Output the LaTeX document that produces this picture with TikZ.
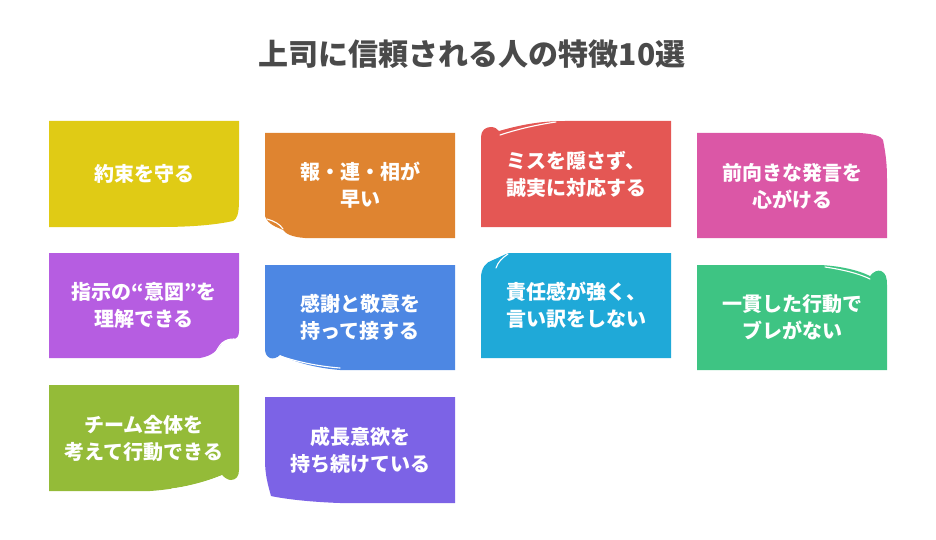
\documentclass[tikz,border=0pt]{standalone}
\usepackage{fontspec}
\setmainfont{Noto Sans CJK JP}
\definecolor{cYellow}{HTML}{E0CB15}
\definecolor{cOrange}{HTML}{DF8430}
\definecolor{cRed}{HTML}{E45754}
\definecolor{cPink}{HTML}{DB57A6}
\definecolor{cPurple}{HTML}{B65DE1}
\definecolor{cBlue}{HTML}{4D87E3}
\definecolor{cCyan}{HTML}{1FA9D8}
\definecolor{cGreen}{HTML}{3EC483}
\definecolor{cOlive}{HTML}{94BB38}
\definecolor{cViolet}{HTML}{7C63E6}
\definecolor{cTitle}{HTML}{4A4A4A}
\tikzset{
  cardtext/.style={text=white, align=center, font=\bfseries\fontsize{20}{27}\selectfont, inner sep=0pt},
  titletext/.style={text=cTitle, font=\bfseries\fontsize{30}{34}\selectfont, inner sep=0pt},
  fold/.style={draw=white, line width=1.1pt, line cap=round}
}
\begin{document}
\begin{tikzpicture}[x=1pt,y=-1pt]
\useasboundingbox (0,0) rectangle (936,540);

\node[titletext] (title) at (472,54) {上司に信頼される人の特徴10選};

% 1 yellow (bottom-right slight curl)
\fill[cYellow] (49,121) -- (239,121) -- (239,200) .. controls (239,214) and (237,219) .. (233,221) .. controls (215,225) and (190,227) .. (160,227) -- (49,227) -- cycle;
\node[cardtext] (t1) at (144,174) {約束を守る};

% 2 orange (bottom-left curl)
\fill[cOrange] (265,133) -- (455,133) -- (455,238) -- (305,238) .. controls (292,237) and (286,234) .. (283,230) .. controls (277,227) and (268,225) .. (265,216) -- cycle;
\draw[fold] (267,219) .. controls (274,221) and (280,224) .. (283,229);
\node[cardtext] (t2) at (360,185) {報・連・相が\\早い};

% 3 red (top-left curl)
\fill[cRed] (481,227) -- (481,137) .. controls (481,130) and (486,127) .. (491,127) .. controls (495,127) and (497,129) .. (499,131) .. controls (520,125) and (540,121) .. (565,121) -- (671,121) -- (671,227) -- cycle;
\draw[fold] (500,135) .. controls (515,130) and (535,125) .. (556,122);
\node[cardtext] (t3) at (576,174) {ミスを隠さず、\\誠実に対応する};

% 4 pink (top-right slight curl)
\fill[cPink] (697,133) -- (860,133) .. controls (874,134) and (881,136) .. (883,140) .. controls (886,155) and (887,165) .. (887,180) -- (887,238) -- (697,238) -- cycle;
\node[cardtext] (t4) at (792,186) {前向きな発言を\\心がける};

% 5 purple (bottom-right curl)
\fill[cPurple] (49,253) -- (239,253) -- (239,331) .. controls (239,336) and (237,339) .. (233,339) .. controls (229,339) and (225,340) .. (222,343) .. controls (218,350) and (212,356) .. (200,358) -- (49,358) -- cycle;
\draw[fold] (214,355) .. controls (217,350) and (219,346) .. (222,343) .. controls (226,340) and (229,339) .. (234,339);
\node[cardtext] (t5) at (144,305) {指示の“意図”を\\理解できる};

% 6 blue (bottom-left curl)
\fill[cBlue] (265,265) -- (455,265) -- (455,370) -- (340,370) .. controls (315,368) and (295,362) .. (280,355) .. controls (277,358) and (273,359) .. (270,358) .. controls (266,356) and (265,353) .. (265,348) -- cycle;
\draw[fold] (280,356) .. controls (295,361) and (315,366) .. (340,368);
\node[cardtext] (t6) at (360,317) {感謝と敬意を\\持って接する};

% 7 cyan (top-left curl)
\fill[cCyan] (671,253) -- (671,358) -- (481,358) -- (481,278) .. controls (481,268) and (486,262) .. (493,260) .. controls (498,258) and (503,255) .. (509,253) -- cycle;
\draw[fold] (508,254) .. controls (502,258) and (498,262) .. (496,268);
\node[cardtext] (t7) at (576,305) {責任感が強く、\\言い訳をしない};

% 8 green (top-right curl)
\fill[cGreen] (697,265) -- (820,265) .. controls (840,266) and (858,270) .. (870,276) .. controls (874,271) and (878,270) .. (881,271) .. controls (886,273) and (887,278) .. (887,285) -- (887,370) -- (697,370) -- cycle;
\draw[fold] (825,267) .. controls (845,270) and (860,274) .. (870,279);
\node[cardtext] (t8) at (792,317) {一貫した行動で\\ブレがない};

% 9 olive (bottom-right curl)
\fill[cOlive] (49,385) -- (239,385) -- (239,470) .. controls (239,476) and (236,480) .. (231,480) .. controls (228,480) and (225,478) .. (222,475) .. controls (205,482) and (180,489) .. (150,491) -- (49,491) -- cycle;
\draw[fold] (222,476) .. controls (205,483) and (190,487) .. (172,489);
\node[cardtext] (t9) at (144,438) {チーム全体を\\考えて行動できる};

% 10 violet (bottom-left slight curl)
\fill[cViolet] (265,397) -- (455,397) -- (455,503) -- (340,503) .. controls (310,502) and (285,499) .. (271,496) .. controls (268,485) and (265,475) .. (265,460) -- cycle;
\node[cardtext] (t10) at (360,450) {成長意欲を\\持ち続けている};
\end{tikzpicture}
\end{document}
